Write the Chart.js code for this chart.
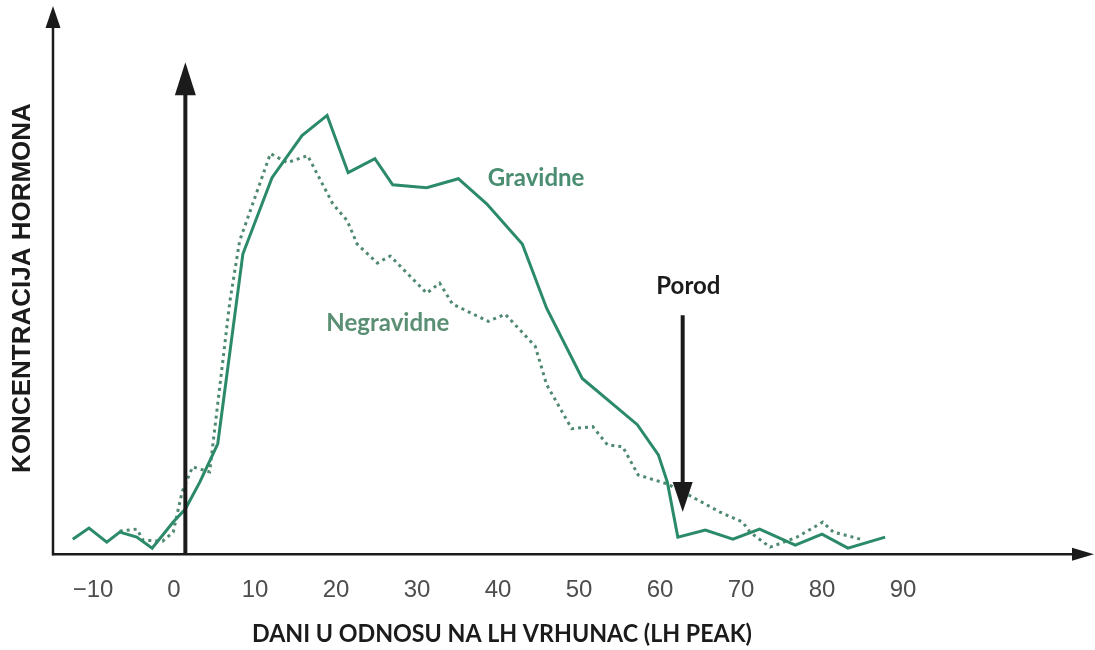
<!DOCTYPE html>
<html>
<head>
<meta charset="utf-8">
<script src="https://cdn.jsdelivr.net/npm/chart.js@4.4.0/dist/chart.umd.min.js"></script>
<style>
  body { margin: 0; background: #fff; }
</style>
</head>
<body>
<canvas id="hormoneChart" width="1095" height="650"></canvas>
<script>
// x ticks (days relative to LH peak)
var tickValues = [-10, 0, 10, 20, 30, 40, 50, 60, 70, 80, 90];
var tickLabels = ["\u221210", "0", "10", "20", "30", "40", "50", "60", "70", "80", "90"];

// Gravidne (solid line)
var gravDays = [-12.5, -10.5, -8.3, -6.7, -4.6, -2.7, -0.1, 1.4, 3.2, 5.4, 8.5, 12.1, 15.8, 18.9, 21.5, 24.8, 27.0, 31.2, 35.1, 38.6, 43.0, 46.0, 50.4, 57.2, 59.8, 60.9, 62.2, 65.6, 69.0, 72.3, 76.7, 80.0, 83.2, 87.8];
var gravValues = [3.0, 5.2, 2.4, 4.4, 3.4, 1.2, 6.4, 9.0, 14.4, 22, 59.8, 75, 83.4, 87.4, 76, 78.8, 73.6, 73, 74.8, 69.8, 61.8, 49, 35, 25.8, 19.8, 14.4, 3.4, 4.8, 3.0, 5.0, 1.8, 4.0, 1.2, 3.4];

// Negravidne (dotted line)
var negDays = [-6.7, -4.6, -3.8, -1.4, -0.1, 1.0, 2.3, 4.4, 6.9, 8.1, 11.9, 14.0, 16.5, 19.6, 21.4, 22.6, 25.1, 26.7, 31.2, 32.8, 34.4, 38.8, 40.9, 44.6, 46.0, 49.1, 51.7, 53.5, 55.4, 57.3, 60.9, 63.3, 67.4, 70.2, 71.1, 73.6, 76.9, 80.1, 81.4, 83.8, 84.7];
var negValues = [4.6, 5.0, 2.8, 2.6, 4.4, 12.4, 17.4, 16.4, 50.4, 62.4, 79.8, 78, 79.4, 69.8, 66.4, 61.8, 58, 59.4, 52, 54, 49.8, 46.4, 47.8, 41.4, 33.8, 25, 25.4, 21.8, 21.4, 15.8, 14, 12, 8.4, 6.4, 4.4, 1.4, 3.4, 6.4, 4.4, 3.4, 3.0];

var lhPeakDay = 1.4;
var porodDay = 62.8;

var GREEN = "#2b8a68";
var INK = "#1b1b1b";

function toPoints(xs, ys) {
  return xs.map(function (x, i) { return { x: x, y: ys[i] }; });
}

function arrowHead(c, x, y, dir, len, half) {
  c.beginPath();
  if (dir === "up") { c.moveTo(x, y); c.lineTo(x - half, y + len); c.lineTo(x + half, y + len); }
  if (dir === "down") { c.moveTo(x, y); c.lineTo(x - half, y - len); c.lineTo(x + half, y - len); }
  if (dir === "right") { c.moveTo(x, y); c.lineTo(x - len, y - half); c.lineTo(x - len, y + half); }
  c.closePath();
  c.fill();
}

function segment(c, x1, y1, x2, y2, w) {
  c.lineWidth = w;
  c.beginPath();
  c.moveTo(x1, y1);
  c.lineTo(x2, y2);
  c.stroke();
}

var annotations = {
  id: "annotations",
  afterDatasetsDraw: function (chart) {
    var c = chart.ctx;
    var xs = chart.scales.x, ys = chart.scales.y, area = chart.chartArea;
    c.save();
    c.strokeStyle = INK;
    c.fillStyle = INK;

    // axes with arrow heads
    segment(c, area.left, area.bottom + 1, area.left, 20, 2.5);
    arrowHead(c, area.left, 6, "up", 22, 7.5);
    segment(c, area.left - 1, area.bottom, 1078, area.bottom, 2.5);
    arrowHead(c, 1094, area.bottom, "right", 22, 6.5);

    // LH peak arrow
    var lx = xs.getPixelForValue(lhPeakDay);
    segment(c, lx, area.bottom, lx, ys.getPixelForValue(98) + 25, 4);
    arrowHead(c, lx, ys.getPixelForValue(98), "up", 33, 10.5);

    // Porod arrow
    var px = xs.getPixelForValue(porodDay);
    segment(c, px, ys.getPixelForValue(47.6), px, ys.getPixelForValue(8.4) - 25, 4);
    arrowHead(c, px, ys.getPixelForValue(8.4), "down", 30, 10);

    // labels
    c.textAlign = "center";
    c.textBaseline = "middle";
    c.font = "bold 24px Lato";
    c.fillStyle = INK;
    c.fillText("Porod", xs.getPixelForValue(63.5), ys.getPixelForValue(53.4), 68);
    c.fillStyle = "#4a8d70";
    c.fillText("Gravidne", xs.getPixelForValue(44.7), ys.getPixelForValue(74.8), 104);
    c.fillStyle = "#5b8f74";
    c.fillText("Negravidne", xs.getPixelForValue(26.4), ys.getPixelForValue(46), 134);

    // axis titles
    c.fillStyle = INK;
    c.font = "bold 25px Lato";
    c.fillText("DANI U ODNOSU NA LH VRHUNAC (LH PEAK)", 502, 634, 500);
    c.save();
    c.translate(23, 288);
    c.rotate(-Math.PI / 2);
    c.font = "bold 26px 'Liberation Sans', Arial";
    c.fillText("KONCENTRACIJA HORMONA", 0, 0, 372);
    c.restore();

    c.restore();
  }
};

var ctx = document.getElementById("hormoneChart");
var hormoneChart = new Chart(ctx, {
  type: "line",
  data: {
    datasets: [
      {
        label: "Gravidne",
        data: toPoints(gravDays, gravValues),
        borderColor: GREEN,
        borderWidth: 3,
        pointRadius: 0,
        tension: 0,
      },
      {
        label: "Negravidne",
        data: toPoints(negDays, negValues),
        borderColor: "#4f8a70",
        borderWidth: 3,
        borderDash: [3, 4],
        pointRadius: 0,
        tension: 0,
      },
    ],
  },
  options: {
    responsive: false,
    animation: false,
    layout: {
      padding: { left: 53, right: 10, top: 2, bottom: 31 },
    },
    plugins: {
      legend: { display: false },
      tooltip: { enabled: false },
    },
    scales: {
      x: {
        type: "linear",
        min: -14.94,
        max: 112.47,
        grid: { display: false },
        border: { display: false },
        afterBuildTicks: function (axis) {
          axis.ticks = tickValues.map(function (v) { return { value: v }; });
        },
        ticks: {
          autoSkip: false,
          maxRotation: 0,
          padding: 14,
          color: "#4d4d4d",
          font: { family: "'Liberation Sans', Arial", size: 24 },
          callback: function (value) {
            return tickLabels[tickValues.indexOf(value)];
          },
        },
      },
      y: {
        display: false,
        min: 0,
        max: 110,
      },
    },
  },
  plugins: [annotations],
});
</script>
</body>
</html>
